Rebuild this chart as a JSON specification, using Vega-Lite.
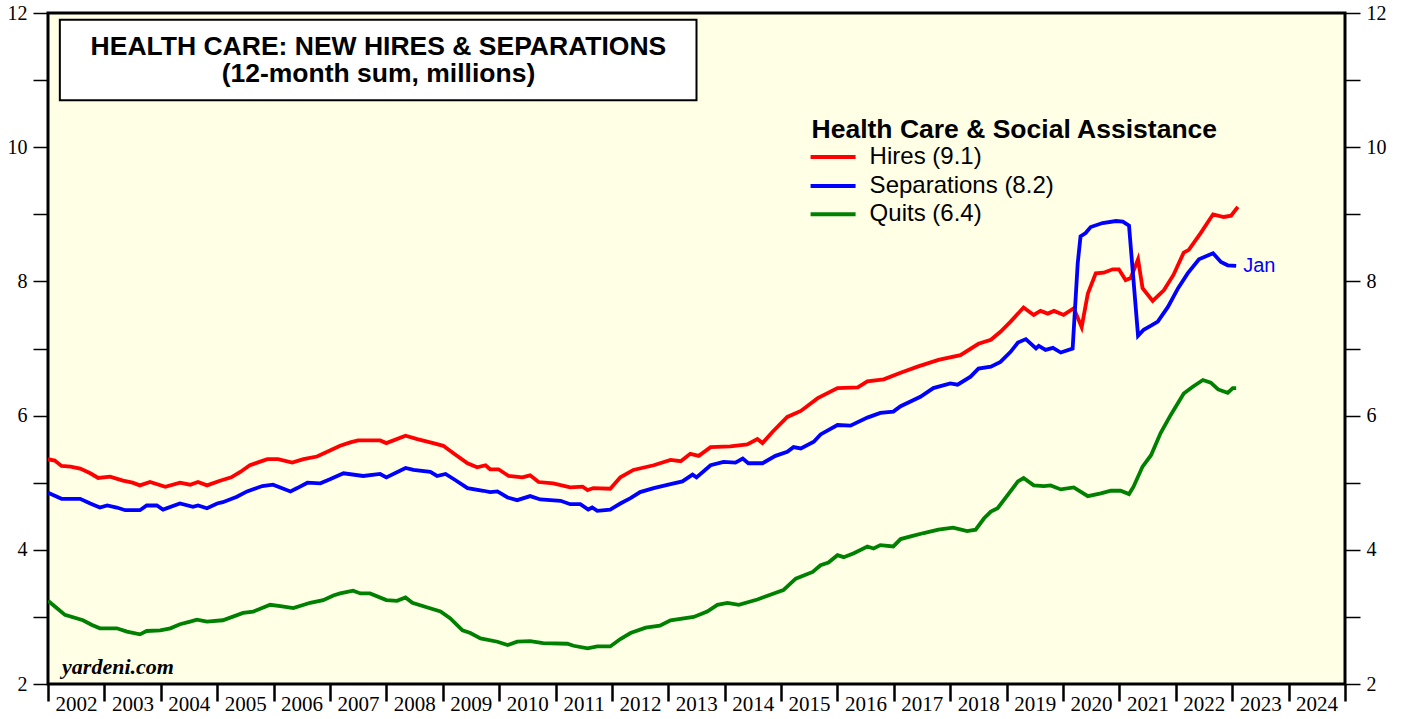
{
  "$schema": "https://vega.github.io/schema/vega-lite/v6.json",
  "width": 1297,
  "height": 671,
  "autosize": {"type": "none"},
  "padding": {"left": 48, "top": 13, "right": 58, "bottom": 35},
  "background": "white",
  "config": {
    "view": {"stroke": "black", "strokeWidth": 3, "fill": "#ffffe6"}
  },
  "datasets": {
    "jolts": [
      {"date":2002.0,"series":"Hires (9.1)","value":5.35},{"date":2002.12,"series":"Hires (9.1)","value":5.33},{"date":2002.24,"series":"Hires (9.1)","value":5.25},{"date":2002.4,"series":"Hires (9.1)","value":5.24},{"date":2002.57,"series":"Hires (9.1)","value":5.21},{"date":2002.75,"series":"Hires (9.1)","value":5.14},{"date":2002.89,"series":"Hires (9.1)","value":5.07},{"date":2003.1,"series":"Hires (9.1)","value":5.09},{"date":2003.33,"series":"Hires (9.1)","value":5.03},{"date":2003.5,"series":"Hires (9.1)","value":5.0},{"date":2003.63,"series":"Hires (9.1)","value":4.96},{"date":2003.81,"series":"Hires (9.1)","value":5.01},{"date":2004.08,"series":"Hires (9.1)","value":4.94},{"date":2004.34,"series":"Hires (9.1)","value":5.0},{"date":2004.52,"series":"Hires (9.1)","value":4.97},{"date":2004.66,"series":"Hires (9.1)","value":5.01},{"date":2004.82,"series":"Hires (9.1)","value":4.96},{"date":2005.05,"series":"Hires (9.1)","value":5.03},{"date":2005.25,"series":"Hires (9.1)","value":5.08},{"date":2005.41,"series":"Hires (9.1)","value":5.16},{"date":2005.58,"series":"Hires (9.1)","value":5.26},{"date":2005.75,"series":"Hires (9.1)","value":5.31},{"date":2005.89,"series":"Hires (9.1)","value":5.35},{"date":2006.08,"series":"Hires (9.1)","value":5.35},{"date":2006.33,"series":"Hires (9.1)","value":5.3},{"date":2006.53,"series":"Hires (9.1)","value":5.35},{"date":2006.77,"series":"Hires (9.1)","value":5.39},{"date":2007.0,"series":"Hires (9.1)","value":5.48},{"date":2007.18,"series":"Hires (9.1)","value":5.55},{"date":2007.36,"series":"Hires (9.1)","value":5.6},{"date":2007.5,"series":"Hires (9.1)","value":5.63},{"date":2007.89,"series":"Hires (9.1)","value":5.63},{"date":2008.0,"series":"Hires (9.1)","value":5.59},{"date":2008.34,"series":"Hires (9.1)","value":5.7},{"date":2008.55,"series":"Hires (9.1)","value":5.65},{"date":2008.83,"series":"Hires (9.1)","value":5.59},{"date":2009.01,"series":"Hires (9.1)","value":5.55},{"date":2009.19,"series":"Hires (9.1)","value":5.44},{"date":2009.44,"series":"Hires (9.1)","value":5.29},{"date":2009.61,"series":"Hires (9.1)","value":5.23},{"date":2009.76,"series":"Hires (9.1)","value":5.26},{"date":2009.84,"series":"Hires (9.1)","value":5.2},{"date":2009.99,"series":"Hires (9.1)","value":5.2},{"date":2010.17,"series":"Hires (9.1)","value":5.1},{"date":2010.41,"series":"Hires (9.1)","value":5.08},{"date":2010.55,"series":"Hires (9.1)","value":5.11},{"date":2010.7,"series":"Hires (9.1)","value":5.01},{"date":2010.96,"series":"Hires (9.1)","value":4.99},{"date":2011.26,"series":"Hires (9.1)","value":4.93},{"date":2011.48,"series":"Hires (9.1)","value":4.94},{"date":2011.57,"series":"Hires (9.1)","value":4.89},{"date":2011.67,"series":"Hires (9.1)","value":4.92},{"date":2011.97,"series":"Hires (9.1)","value":4.91},{"date":2012.15,"series":"Hires (9.1)","value":5.08},{"date":2012.38,"series":"Hires (9.1)","value":5.19},{"date":2012.74,"series":"Hires (9.1)","value":5.26},{"date":2013.04,"series":"Hires (9.1)","value":5.34},{"date":2013.22,"series":"Hires (9.1)","value":5.32},{"date":2013.39,"series":"Hires (9.1)","value":5.43},{"date":2013.54,"series":"Hires (9.1)","value":5.4},{"date":2013.75,"series":"Hires (9.1)","value":5.53},{"date":2014.1,"series":"Hires (9.1)","value":5.54},{"date":2014.4,"series":"Hires (9.1)","value":5.57},{"date":2014.58,"series":"Hires (9.1)","value":5.65},{"date":2014.67,"series":"Hires (9.1)","value":5.59},{"date":2014.85,"series":"Hires (9.1)","value":5.76},{"date":2015.11,"series":"Hires (9.1)","value":5.98},{"date":2015.35,"series":"Hires (9.1)","value":6.07},{"date":2015.65,"series":"Hires (9.1)","value":6.26},{"date":2016.0,"series":"Hires (9.1)","value":6.41},{"date":2016.36,"series":"Hires (9.1)","value":6.42},{"date":2016.53,"series":"Hires (9.1)","value":6.51},{"date":2016.82,"series":"Hires (9.1)","value":6.54},{"date":2017.12,"series":"Hires (9.1)","value":6.64},{"date":2017.42,"series":"Hires (9.1)","value":6.73},{"date":2017.79,"series":"Hires (9.1)","value":6.83},{"date":2018.18,"series":"Hires (9.1)","value":6.9},{"date":2018.5,"series":"Hires (9.1)","value":7.07},{"date":2018.72,"series":"Hires (9.1)","value":7.13},{"date":2018.89,"series":"Hires (9.1)","value":7.25},{"date":2019.07,"series":"Hires (9.1)","value":7.4},{"date":2019.3,"series":"Hires (9.1)","value":7.61},{"date":2019.48,"series":"Hires (9.1)","value":7.5},{"date":2019.6,"series":"Hires (9.1)","value":7.56},{"date":2019.73,"series":"Hires (9.1)","value":7.52},{"date":2019.84,"series":"Hires (9.1)","value":7.56},{"date":2020.01,"series":"Hires (9.1)","value":7.5},{"date":2020.19,"series":"Hires (9.1)","value":7.6},{"date":2020.33,"series":"Hires (9.1)","value":7.32},{"date":2020.44,"series":"Hires (9.1)","value":7.82},{"date":2020.58,"series":"Hires (9.1)","value":8.12},{"date":2020.72,"series":"Hires (9.1)","value":8.13},{"date":2020.88,"series":"Hires (9.1)","value":8.18},{"date":2020.99,"series":"Hires (9.1)","value":8.18},{"date":2021.11,"series":"Hires (9.1)","value":8.02},{"date":2021.2,"series":"Hires (9.1)","value":8.05},{"date":2021.33,"series":"Hires (9.1)","value":8.33},{"date":2021.41,"series":"Hires (9.1)","value":7.9},{"date":2021.59,"series":"Hires (9.1)","value":7.71},{"date":2021.79,"series":"Hires (9.1)","value":7.87},{"date":2021.96,"series":"Hires (9.1)","value":8.1},{"date":2022.14,"series":"Hires (9.1)","value":8.43},{"date":2022.23,"series":"Hires (9.1)","value":8.47},{"date":2022.44,"series":"Hires (9.1)","value":8.72},{"date":2022.66,"series":"Hires (9.1)","value":9.0},{"date":2022.85,"series":"Hires (9.1)","value":8.96},{"date":2022.98,"series":"Hires (9.1)","value":8.98},{"date":2023.1,"series":"Hires (9.1)","value":9.11},
      {"date":2002.0,"series":"Separations (8.2)","value":4.85},{"date":2002.24,"series":"Separations (8.2)","value":4.76},{"date":2002.57,"series":"Separations (8.2)","value":4.76},{"date":2002.75,"series":"Separations (8.2)","value":4.69},{"date":2002.92,"series":"Separations (8.2)","value":4.63},{"date":2003.05,"series":"Separations (8.2)","value":4.66},{"date":2003.22,"series":"Separations (8.2)","value":4.63},{"date":2003.37,"series":"Separations (8.2)","value":4.59},{"date":2003.63,"series":"Separations (8.2)","value":4.59},{"date":2003.75,"series":"Separations (8.2)","value":4.66},{"date":2003.93,"series":"Separations (8.2)","value":4.66},{"date":2004.04,"series":"Separations (8.2)","value":4.6},{"date":2004.34,"series":"Separations (8.2)","value":4.69},{"date":2004.57,"series":"Separations (8.2)","value":4.64},{"date":2004.66,"series":"Separations (8.2)","value":4.66},{"date":2004.82,"series":"Separations (8.2)","value":4.62},{"date":2005.0,"series":"Separations (8.2)","value":4.69},{"date":2005.1,"series":"Separations (8.2)","value":4.71},{"date":2005.35,"series":"Separations (8.2)","value":4.79},{"date":2005.53,"series":"Separations (8.2)","value":4.87},{"date":2005.8,"series":"Separations (8.2)","value":4.95},{"date":2005.99,"series":"Separations (8.2)","value":4.97},{"date":2006.3,"series":"Separations (8.2)","value":4.87},{"date":2006.42,"series":"Separations (8.2)","value":4.92},{"date":2006.6,"series":"Separations (8.2)","value":5.0},{"date":2006.83,"series":"Separations (8.2)","value":4.99},{"date":2007.0,"series":"Separations (8.2)","value":5.05},{"date":2007.24,"series":"Separations (8.2)","value":5.14},{"date":2007.59,"series":"Separations (8.2)","value":5.1},{"date":2007.89,"series":"Separations (8.2)","value":5.13},{"date":2008.0,"series":"Separations (8.2)","value":5.08},{"date":2008.34,"series":"Separations (8.2)","value":5.22},{"date":2008.48,"series":"Separations (8.2)","value":5.19},{"date":2008.78,"series":"Separations (8.2)","value":5.16},{"date":2008.9,"series":"Separations (8.2)","value":5.1},{"date":2009.05,"series":"Separations (8.2)","value":5.13},{"date":2009.22,"series":"Separations (8.2)","value":5.04},{"date":2009.44,"series":"Separations (8.2)","value":4.92},{"date":2009.72,"series":"Separations (8.2)","value":4.88},{"date":2009.84,"series":"Separations (8.2)","value":4.86},{"date":2009.97,"series":"Separations (8.2)","value":4.87},{"date":2010.15,"series":"Separations (8.2)","value":4.78},{"date":2010.32,"series":"Separations (8.2)","value":4.74},{"date":2010.55,"series":"Separations (8.2)","value":4.8},{"date":2010.73,"series":"Separations (8.2)","value":4.75},{"date":2011.09,"series":"Separations (8.2)","value":4.73},{"date":2011.26,"series":"Separations (8.2)","value":4.68},{"date":2011.44,"series":"Separations (8.2)","value":4.68},{"date":2011.58,"series":"Separations (8.2)","value":4.6},{"date":2011.65,"series":"Separations (8.2)","value":4.63},{"date":2011.74,"series":"Separations (8.2)","value":4.58},{"date":2011.97,"series":"Separations (8.2)","value":4.6},{"date":2012.15,"series":"Separations (8.2)","value":4.69},{"date":2012.33,"series":"Separations (8.2)","value":4.77},{"date":2012.5,"series":"Separations (8.2)","value":4.86},{"date":2012.74,"series":"Separations (8.2)","value":4.92},{"date":2013.04,"series":"Separations (8.2)","value":4.98},{"date":2013.25,"series":"Separations (8.2)","value":5.02},{"date":2013.43,"series":"Separations (8.2)","value":5.12},{"date":2013.5,"series":"Separations (8.2)","value":5.08},{"date":2013.75,"series":"Separations (8.2)","value":5.26},{"date":2013.98,"series":"Separations (8.2)","value":5.31},{"date":2014.19,"series":"Separations (8.2)","value":5.3},{"date":2014.32,"series":"Separations (8.2)","value":5.36},{"date":2014.42,"series":"Separations (8.2)","value":5.29},{"date":2014.67,"series":"Separations (8.2)","value":5.29},{"date":2014.9,"series":"Separations (8.2)","value":5.4},{"date":2015.11,"series":"Separations (8.2)","value":5.46},{"date":2015.22,"series":"Separations (8.2)","value":5.53},{"date":2015.35,"series":"Separations (8.2)","value":5.51},{"date":2015.58,"series":"Separations (8.2)","value":5.61},{"date":2015.7,"series":"Separations (8.2)","value":5.72},{"date":2016.0,"series":"Separations (8.2)","value":5.86},{"date":2016.23,"series":"Separations (8.2)","value":5.85},{"date":2016.53,"series":"Separations (8.2)","value":5.97},{"date":2016.76,"series":"Separations (8.2)","value":6.04},{"date":2016.99,"series":"Separations (8.2)","value":6.06},{"date":2017.12,"series":"Separations (8.2)","value":6.14},{"date":2017.47,"series":"Separations (8.2)","value":6.28},{"date":2017.7,"series":"Separations (8.2)","value":6.41},{"date":2018.0,"series":"Separations (8.2)","value":6.48},{"date":2018.13,"series":"Separations (8.2)","value":6.46},{"date":2018.36,"series":"Separations (8.2)","value":6.58},{"date":2018.5,"series":"Separations (8.2)","value":6.7},{"date":2018.72,"series":"Separations (8.2)","value":6.73},{"date":2018.89,"series":"Separations (8.2)","value":6.8},{"date":2019.07,"series":"Separations (8.2)","value":6.95},{"date":2019.2,"series":"Separations (8.2)","value":7.09},{"date":2019.34,"series":"Separations (8.2)","value":7.14},{"date":2019.52,"series":"Separations (8.2)","value":7.0},{"date":2019.57,"series":"Separations (8.2)","value":7.04},{"date":2019.69,"series":"Separations (8.2)","value":6.98},{"date":2019.82,"series":"Separations (8.2)","value":7.01},{"date":2019.96,"series":"Separations (8.2)","value":6.94},{"date":2020.17,"series":"Separations (8.2)","value":7.0},{"date":2020.26,"series":"Separations (8.2)","value":8.27},{"date":2020.31,"series":"Separations (8.2)","value":8.67},{"date":2020.4,"series":"Separations (8.2)","value":8.72},{"date":2020.49,"series":"Separations (8.2)","value":8.81},{"date":2020.7,"series":"Separations (8.2)","value":8.87},{"date":2020.94,"series":"Separations (8.2)","value":8.9},{"date":2021.06,"series":"Separations (8.2)","value":8.89},{"date":2021.17,"series":"Separations (8.2)","value":8.83},{"date":2021.33,"series":"Separations (8.2)","value":7.19},{"date":2021.43,"series":"Separations (8.2)","value":7.28},{"date":2021.56,"series":"Separations (8.2)","value":7.34},{"date":2021.68,"series":"Separations (8.2)","value":7.4},{"date":2021.86,"series":"Separations (8.2)","value":7.62},{"date":2022.04,"series":"Separations (8.2)","value":7.9},{"date":2022.21,"series":"Separations (8.2)","value":8.12},{"date":2022.41,"series":"Separations (8.2)","value":8.33},{"date":2022.66,"series":"Separations (8.2)","value":8.42},{"date":2022.8,"series":"Separations (8.2)","value":8.29},{"date":2022.92,"series":"Separations (8.2)","value":8.24},{"date":2023.07,"series":"Separations (8.2)","value":8.23},
      {"date":2002.0,"series":"Quits (6.4)","value":3.24},{"date":2002.16,"series":"Quits (6.4)","value":3.13},{"date":2002.3,"series":"Quits (6.4)","value":3.03},{"date":2002.62,"series":"Quits (6.4)","value":2.95},{"date":2002.78,"series":"Quits (6.4)","value":2.88},{"date":2002.92,"series":"Quits (6.4)","value":2.83},{"date":2003.22,"series":"Quits (6.4)","value":2.83},{"date":2003.4,"series":"Quits (6.4)","value":2.78},{"date":2003.63,"series":"Quits (6.4)","value":2.74},{"date":2003.75,"series":"Quits (6.4)","value":2.79},{"date":2003.99,"series":"Quits (6.4)","value":2.8},{"date":2004.17,"series":"Quits (6.4)","value":2.83},{"date":2004.34,"series":"Quits (6.4)","value":2.89},{"date":2004.52,"series":"Quits (6.4)","value":2.93},{"date":2004.64,"series":"Quits (6.4)","value":2.96},{"date":2004.82,"series":"Quits (6.4)","value":2.93},{"date":2005.1,"series":"Quits (6.4)","value":2.95},{"date":2005.46,"series":"Quits (6.4)","value":3.06},{"date":2005.64,"series":"Quits (6.4)","value":3.08},{"date":2005.94,"series":"Quits (6.4)","value":3.18},{"date":2006.12,"series":"Quits (6.4)","value":3.16},{"date":2006.35,"series":"Quits (6.4)","value":3.13},{"date":2006.65,"series":"Quits (6.4)","value":3.21},{"date":2006.88,"series":"Quits (6.4)","value":3.25},{"date":2007.06,"series":"Quits (6.4)","value":3.32},{"date":2007.18,"series":"Quits (6.4)","value":3.35},{"date":2007.41,"series":"Quits (6.4)","value":3.39},{"date":2007.54,"series":"Quits (6.4)","value":3.35},{"date":2007.71,"series":"Quits (6.4)","value":3.35},{"date":2008.0,"series":"Quits (6.4)","value":3.25},{"date":2008.19,"series":"Quits (6.4)","value":3.24},{"date":2008.34,"series":"Quits (6.4)","value":3.29},{"date":2008.46,"series":"Quits (6.4)","value":3.21},{"date":2008.73,"series":"Quits (6.4)","value":3.14},{"date":2008.96,"series":"Quits (6.4)","value":3.08},{"date":2009.13,"series":"Quits (6.4)","value":2.98},{"date":2009.35,"series":"Quits (6.4)","value":2.8},{"date":2009.49,"series":"Quits (6.4)","value":2.76},{"date":2009.67,"series":"Quits (6.4)","value":2.68},{"date":2009.97,"series":"Quits (6.4)","value":2.63},{"date":2010.15,"series":"Quits (6.4)","value":2.58},{"date":2010.32,"series":"Quits (6.4)","value":2.63},{"date":2010.55,"series":"Quits (6.4)","value":2.64},{"date":2010.78,"series":"Quits (6.4)","value":2.61},{"date":2011.21,"series":"Quits (6.4)","value":2.6},{"date":2011.32,"series":"Quits (6.4)","value":2.57},{"date":2011.57,"series":"Quits (6.4)","value":2.53},{"date":2011.74,"series":"Quits (6.4)","value":2.56},{"date":2011.97,"series":"Quits (6.4)","value":2.56},{"date":2012.15,"series":"Quits (6.4)","value":2.67},{"date":2012.33,"series":"Quits (6.4)","value":2.76},{"date":2012.6,"series":"Quits (6.4)","value":2.84},{"date":2012.85,"series":"Quits (6.4)","value":2.87},{"date":2013.04,"series":"Quits (6.4)","value":2.95},{"date":2013.45,"series":"Quits (6.4)","value":3.0},{"date":2013.69,"series":"Quits (6.4)","value":3.08},{"date":2013.87,"series":"Quits (6.4)","value":3.18},{"date":2014.05,"series":"Quits (6.4)","value":3.21},{"date":2014.25,"series":"Quits (6.4)","value":3.18},{"date":2014.58,"series":"Quits (6.4)","value":3.26},{"date":2014.87,"series":"Quits (6.4)","value":3.35},{"date":2015.04,"series":"Quits (6.4)","value":3.4},{"date":2015.26,"series":"Quits (6.4)","value":3.57},{"date":2015.56,"series":"Quits (6.4)","value":3.67},{"date":2015.7,"series":"Quits (6.4)","value":3.77},{"date":2015.84,"series":"Quits (6.4)","value":3.81},{"date":2016.0,"series":"Quits (6.4)","value":3.92},{"date":2016.11,"series":"Quits (6.4)","value":3.89},{"date":2016.29,"series":"Quits (6.4)","value":3.95},{"date":2016.53,"series":"Quits (6.4)","value":4.05},{"date":2016.64,"series":"Quits (6.4)","value":4.02},{"date":2016.76,"series":"Quits (6.4)","value":4.07},{"date":2016.99,"series":"Quits (6.4)","value":4.05},{"date":2017.12,"series":"Quits (6.4)","value":4.16},{"date":2017.35,"series":"Quits (6.4)","value":4.21},{"date":2017.53,"series":"Quits (6.4)","value":4.25},{"date":2017.79,"series":"Quits (6.4)","value":4.3},{"date":2018.05,"series":"Quits (6.4)","value":4.33},{"date":2018.3,"series":"Quits (6.4)","value":4.28},{"date":2018.45,"series":"Quits (6.4)","value":4.3},{"date":2018.6,"series":"Quits (6.4)","value":4.47},{"date":2018.72,"series":"Quits (6.4)","value":4.57},{"date":2018.84,"series":"Quits (6.4)","value":4.62},{"date":2019.02,"series":"Quits (6.4)","value":4.82},{"date":2019.2,"series":"Quits (6.4)","value":5.02},{"date":2019.3,"series":"Quits (6.4)","value":5.07},{"date":2019.48,"series":"Quits (6.4)","value":4.96},{"date":2019.66,"series":"Quits (6.4)","value":4.95},{"date":2019.78,"series":"Quits (6.4)","value":4.96},{"date":2019.96,"series":"Quits (6.4)","value":4.9},{"date":2020.19,"series":"Quits (6.4)","value":4.93},{"date":2020.44,"series":"Quits (6.4)","value":4.8},{"date":2020.67,"series":"Quits (6.4)","value":4.84},{"date":2020.85,"series":"Quits (6.4)","value":4.88},{"date":2021.02,"series":"Quits (6.4)","value":4.88},{"date":2021.17,"series":"Quits (6.4)","value":4.83},{"date":2021.25,"series":"Quits (6.4)","value":4.94},{"date":2021.41,"series":"Quits (6.4)","value":5.24},{"date":2021.56,"series":"Quits (6.4)","value":5.41},{"date":2021.73,"series":"Quits (6.4)","value":5.74},{"date":2021.91,"series":"Quits (6.4)","value":6.01},{"date":2022.14,"series":"Quits (6.4)","value":6.33},{"date":2022.3,"series":"Quits (6.4)","value":6.43},{"date":2022.48,"series":"Quits (6.4)","value":6.53},{"date":2022.62,"series":"Quits (6.4)","value":6.49},{"date":2022.75,"series":"Quits (6.4)","value":6.39},{"date":2022.92,"series":"Quits (6.4)","value":6.34},{"date":2023.01,"series":"Quits (6.4)","value":6.41},{"date":2023.07,"series":"Quits (6.4)","value":6.41}
    ]
  },
  "layer": [
    {
      "data": {"name": "jolts"},
      "mark": {"type": "line", "strokeWidth": 3.8, "clip": true},
      "encoding": {
        "x": {"field": "date", "type": "quantitative",
          "scale": {"domain": [2002, 2025], "nice": false, "zero": false},
          "axis": {"orient": "bottom", "title": null, "values": [2002,2003,2004,2005,2006,2007,2008,2009,2010,2011,2012,2013,2014,2015,2016,2017,2018,2019,2020,2021,2022,2023,2024,2025],
            "format": "d", "labelExpr": "datum.value < 2025 ? datum.label : ''", "labelOffset": 28, "labelAlign": "center", "labelBaseline": "top",
            "labelFont": "Liberation Serif", "labelFontSize": 21, "labelColor": "black", "labelPadding": -8, "labelFlush": false, "labelOverlap": false,
            "tickSize": 17, "tickWidth": 2.5, "tickColor": "black", "domain": false, "grid": false}},
        "y": {"field": "value", "type": "quantitative",
          "scale": {"domain": [2, 12], "nice": false, "zero": false},
          "axis": {"orient": "left", "title": null, "values": [2,3,4,5,6,7,8,9,10,11,12],
            "labelExpr": "datum.value % 2 == 0 ? datum.label : ''", "labelFont": "Liberation Serif", "labelFontSize": 20, "labelColor": "black",
            "labelPadding": 6, "tickSize": 15, "tickWidth": 1.5, "tickColor": "black", "domain": false, "grid": false}},
        "color": {"field": "series", "type": "nominal",
          "scale": {"domain": ["Hires (9.1)", "Separations (8.2)", "Quits (6.4)"], "range": ["#ff0000", "#0000ff", "#008000"]},
          "legend": null}
      }
    },
    {
      "data": {"values": [{"label": "Jan"}]},
      "mark": {"type": "text", "align": "left", "baseline": "middle", "dx": 7, "font": "Liberation Sans", "fontSize": 20, "color": "#0000ff"},
      "encoding": {
        "x": {"datum": 2023.07, "type": "quantitative", "scale": {"domain": [2002, 2025], "nice": false, "zero": false}, "axis": null},
        "y": {"datum": 8.23, "type": "quantitative", "scale": {"domain": [2, 12], "nice": false, "zero": false},
          "axis": {"orient": "right", "title": null, "values": [2,3,4,5,6,7,8,9,10,11,12],
            "labelExpr": "datum.value % 2 == 0 ? datum.label : ''", "labelFont": "Liberation Serif", "labelFontSize": 20, "labelColor": "black",
            "labelPadding": 6, "tickSize": 15, "tickWidth": 1.5, "tickColor": "black", "domain": false, "grid": false}},
        "text": {"field": "label"}
      }
    },
    {
      "data": {"values": [{"note": "title box"}]},
      "mark": {"type": "rect", "fill": "white", "stroke": "black", "strokeWidth": 2},
      "encoding": {
        "x": {"datum": 2002.21, "type": "quantitative", "scale": {"domain": [2002, 2025], "nice": false, "zero": false}, "axis": null},
        "x2": {"datum": 2013.5},
        "y": {"datum": 11.9, "type": "quantitative", "scale": {"domain": [2, 12], "nice": false, "zero": false}, "axis": null},
        "y2": {"datum": 10.7}
      }
    },
    {
      "data": {"values": [{"label": "HEALTH CARE: NEW HIRES & SEPARATIONS", "row": 11.5}, {"label": "(12-month sum, millions)", "row": 11.09}]},
      "mark": {"type": "text", "align": "center", "baseline": "middle", "font": "Liberation Sans", "fontSize": 26.5, "fontWeight": "bold", "color": "black"},
      "encoding": {
        "x": {"datum": 2007.86, "type": "quantitative", "scale": {"domain": [2002, 2025], "nice": false, "zero": false}, "axis": null},
        "y": {"field": "row", "type": "quantitative", "scale": {"domain": [2, 12], "nice": false, "zero": false}, "axis": null},
        "text": {"field": "label"}
      }
    },
    {
      "data": {"values": [{"label": "Health Care & Social Assistance"}]},
      "mark": {"type": "text", "align": "left", "baseline": "middle", "font": "Liberation Sans", "fontSize": 26.5, "fontWeight": "bold", "color": "black"},
      "encoding": {
        "x": {"datum": 2015.54, "type": "quantitative", "scale": {"domain": [2002, 2025], "nice": false, "zero": false}, "axis": null},
        "y": {"datum": 10.256, "type": "quantitative", "scale": {"domain": [2, 12], "nice": false, "zero": false}, "axis": null},
        "text": {"field": "label"}
      }
    },
    {
      "data": {"values": [{"series": "Hires (9.1)"}]},
      "layer": [
        {"mark": {"type": "rule", "strokeWidth": 4, "color": "#ff0000"},
         "encoding": {
           "x": {"datum": 2015.523, "type": "quantitative", "scale": {"domain": [2002, 2025], "nice": false, "zero": false}, "axis": null},
           "x2": {"datum": 2016.321},
           "y": {"datum": 9.854, "type": "quantitative", "scale": {"domain": [2, 12], "nice": false, "zero": false}, "axis": null}}},
        {"mark": {"type": "text", "align": "left", "baseline": "middle", "font": "Liberation Sans", "fontSize": 24, "color": "black"},
         "encoding": {
           "x": {"datum": 2016.57, "type": "quantitative", "scale": {"domain": [2002, 2025], "nice": false, "zero": false}, "axis": null},
           "y": {"datum": 9.854, "type": "quantitative", "scale": {"domain": [2, 12], "nice": false, "zero": false}, "axis": null},
           "text": {"field": "series"}}}
      ]
    },
    {
      "data": {"values": [{"series": "Separations (8.2)"}]},
      "layer": [
        {"mark": {"type": "rule", "strokeWidth": 4, "color": "#0000ff"},
         "encoding": {
           "x": {"datum": 2015.523, "type": "quantitative", "scale": {"domain": [2002, 2025], "nice": false, "zero": false}, "axis": null},
           "x2": {"datum": 2016.321},
           "y": {"datum": 9.422, "type": "quantitative", "scale": {"domain": [2, 12], "nice": false, "zero": false}, "axis": null}}},
        {"mark": {"type": "text", "align": "left", "baseline": "middle", "font": "Liberation Sans", "fontSize": 24, "color": "black"},
         "encoding": {
           "x": {"datum": 2016.57, "type": "quantitative", "scale": {"domain": [2002, 2025], "nice": false, "zero": false}, "axis": null},
           "y": {"datum": 9.422, "type": "quantitative", "scale": {"domain": [2, 12], "nice": false, "zero": false}, "axis": null},
           "text": {"field": "series"}}}
      ]
    },
    {
      "data": {"values": [{"series": "Quits (6.4)"}]},
      "layer": [
        {"mark": {"type": "rule", "strokeWidth": 4, "color": "#008000"},
         "encoding": {
           "x": {"datum": 2015.523, "type": "quantitative", "scale": {"domain": [2002, 2025], "nice": false, "zero": false}, "axis": null},
           "x2": {"datum": 2016.321},
           "y": {"datum": 9.0, "type": "quantitative", "scale": {"domain": [2, 12], "nice": false, "zero": false}, "axis": null}}},
        {"mark": {"type": "text", "align": "left", "baseline": "middle", "font": "Liberation Sans", "fontSize": 24, "color": "black"},
         "encoding": {
           "x": {"datum": 2016.57, "type": "quantitative", "scale": {"domain": [2002, 2025], "nice": false, "zero": false}, "axis": null},
           "y": {"datum": 9.0, "type": "quantitative", "scale": {"domain": [2, 12], "nice": false, "zero": false}, "axis": null},
           "text": {"field": "series"}}}
      ]
    },
    {
      "data": {"values": [{"label": "yardeni.com"}]},
      "mark": {"type": "text", "align": "left", "baseline": "middle", "font": "Liberation Serif", "fontSize": 22, "fontWeight": "bold", "fontStyle": "italic", "color": "black"},
      "encoding": {
        "x": {"datum": 2002.25, "type": "quantitative", "scale": {"domain": [2002, 2025], "nice": false, "zero": false}, "axis": null},
        "y": {"datum": 2.25, "type": "quantitative", "scale": {"domain": [2, 12], "nice": false, "zero": false}, "axis": null},
        "text": {"field": "label"}
      }
    }
  ],
  "resolve": {"axis": {"y": "independent", "x": "independent"}}
}
